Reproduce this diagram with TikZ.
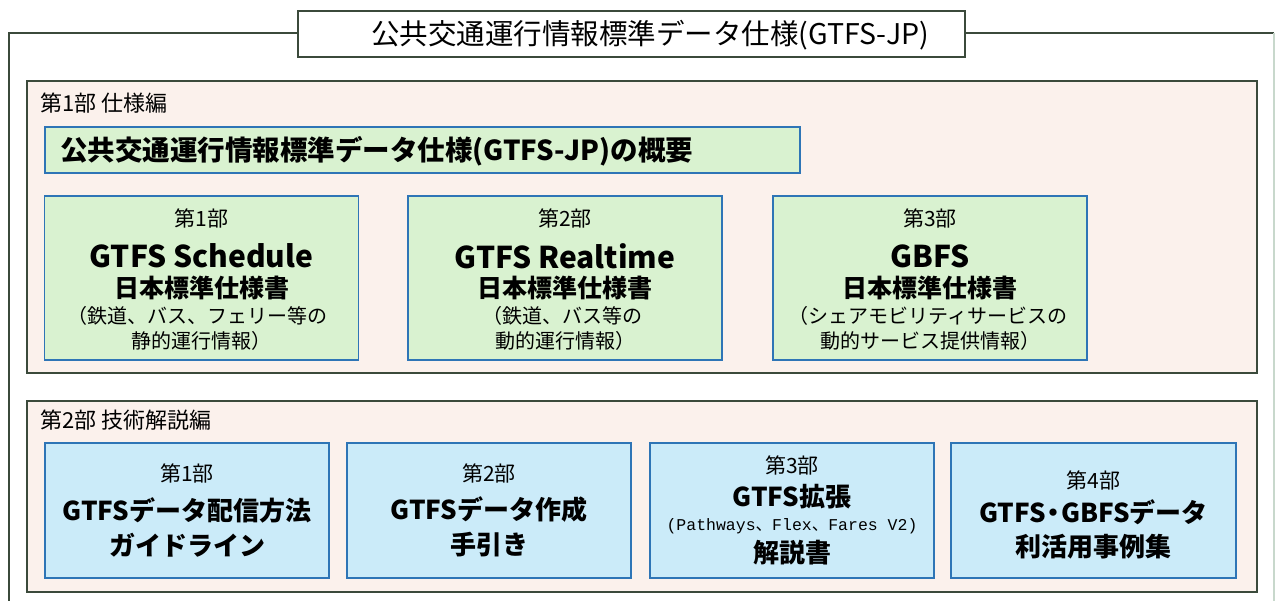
\documentclass[tikz,border=0pt]{standalone}
\usepackage{fontspec}
\setmainfont{Noto Sans CJK JP}
\newfontfamily\monofont{Liberation Mono}
\newfontfamily\cjk{Noto Sans CJK JP}
\definecolor{frame}{HTML}{3B4A3B}
\definecolor{secfill}{HTML}{FBF1EC}
\definecolor{boxline}{HTML}{2E75B6}
\definecolor{greenfill}{HTML}{D9F2D0}
\definecolor{bluefill}{HTML}{CBEBF9}
\definecolor{faint}{HTML}{C8D8CC}
\tikzset{
  section/.style={draw=frame, line width=2pt, fill=secfill, inner sep=0pt},
  titlebox/.style={draw=frame, line width=2pt, fill=white, inner sep=0pt, minimum width=667pt, minimum height=46pt},
  gbox/.style={draw=boxline, line width=1.6pt, fill=greenfill, inner sep=0pt, minimum height=164pt, minimum width=314pt},
  bbox/.style={draw=boxline, line width=1.6pt, fill=bluefill, inner sep=0pt, minimum height=135pt, minimum width=284pt},
  txt/.style={inner sep=0pt, anchor=center},
  small/.style={txt, font=\fontsize{21}{23}\selectfont},
  big/.style={txt, font=\bfseries\fontsize{26}{28}\selectfont},
  latin/.style={txt, font=\bfseries\fontsize{30}{32}\selectfont},
  paren/.style={txt, font=\fontsize{20}{22}\selectfont},
}
\begin{document}
\begin{tikzpicture}[x=1pt,y=-1pt]
\useasboundingbox (0,0) rectangle (1276,601);
% outer frame
\coordinate (ftl) at (9,33);
\coordinate (fbl) at (9,601);
\coordinate (ftr) at (1274,33);
\coordinate (fbr) at (1274,601);
\node[titlebox] (title) at (631.5,34) {};
\draw[frame, line width=1.6pt] (title.west |- ftl) -- (ftl) -- (fbl);
\draw[frame, line width=1.6pt] (title.east |- ftr) -- (ftr);
\draw[faint, line width=1.2pt] (ftr) -- (fbr);
\node[txt, font=\fontsize{28.5}{30}\selectfont] (titletext) at (650,35) {公共交通運行情報標準データ仕様(GTFS-JP)};
% sections
\node[section, minimum width=1230pt, minimum height=292pt] (sec1) at (642,227) {};
\node[section, minimum width=1230pt, minimum height=191pt] (sec2) at (642,496.5) {};
\node[txt, anchor=west, font=\fontsize{22}{24}\selectfont] (sec1label) at (40,103) {第1部 仕様編};
\node[txt, anchor=west, font=\fontsize{22}{24}\selectfont] (sec2label) at (40,420) {第2部 技術解説編};
% overview
\node[draw=boxline, line width=1.6pt, fill=greenfill, inner sep=0pt, minimum width=755pt, minimum height=46pt] (ov) at (422.5,150) {};
\node[txt, anchor=west, font=\bfseries\fontsize{27.5}{29}\selectfont] (ovtext) at (60,151) {公共交通運行情報標準データ仕様(GTFS-JP)の概要};
% green boxes
\node[gbox] (g1) at (201.5,278) {};
\node[gbox] (g2) at (565,278) {};
\node[gbox] (g3) at (930,278) {};
\node[small] (g1a) at (201.5,218) {第1部};
\node[latin] (g1b) at (201.5,256) {GTFS Schedule};
\node[big, font=\bfseries\fontsize{25}{27}\selectfont] (g1c) at (201.5,288) {日本標準仕様書};
\node[paren] (g1d) at (197,316) {（鉄道、バス、フェリー等の};
\node[paren] (g1e) at (201.5,341) {静的運行情報）};
\node[small] (g2a) at (565,218) {第2部};
\node[latin] (g2b) at (565,256) {GTFS Realtime};
\node[big, font=\bfseries\fontsize{25}{27}\selectfont] (g2c) at (565,288) {日本標準仕様書};
\node[paren] (g2d) at (562,316) {（鉄道、バス等の};
\node[paren] (g2e) at (565,341) {動的運行情報）};
\node[small] (g3a) at (930,218) {第3部};
\node[latin] (g3b) at (930,256) {GBFS};
\node[big, font=\bfseries\fontsize{25}{27}\selectfont] (g3c) at (930,288) {日本標準仕様書};
\node[paren] (g3d) at (928,316) {（シェアモビリティサービスの};
\node[paren] (g3e) at (930,341) {動的サービス提供情報）};
% blue boxes
\node[bbox] (b1) at (187,510.5) {};
\node[bbox] (b2) at (489,510.5) {};
\node[bbox] (b3) at (792,510.5) {};
\node[bbox, minimum width=285pt] (b4) at (1093.5,510.5) {};
\node[small] (b1a) at (187,473) {第1部};
\node[big] (b1b) at (187,510) {GTFSデータ配信方法};
\node[big] (b1c) at (187,545) {ガイドライン};
\node[small] (b2a) at (489,473) {第2部};
\node[big] (b2b) at (489,510) {GTFSデータ作成};
\node[big] (b2c) at (489,545) {手引き};
\node[small] (b3a) at (792,465) {第3部};
\node[big] (b3b) at (792,497) {GTFS拡張};
\node[txt, font=\fontsize{16.5}{18}\selectfont] (b3c) at (792,526) {{\monofont (Pathways}{\cjk 、}{\monofont Flex}{\cjk 、}{\monofont Fares V2)}};
\node[big] (b3d) at (792,553) {解説書};
\node[small] (b4a) at (1093.5,480) {第4部};
\node[big] (b4b) at (1093.5,512) {GTFS\kern-0.2em・\kern-0.2em GBFSデータ};
\node[big] (b4c) at (1093.5,547) {利活用事例集};
\end{tikzpicture}
\end{document}
